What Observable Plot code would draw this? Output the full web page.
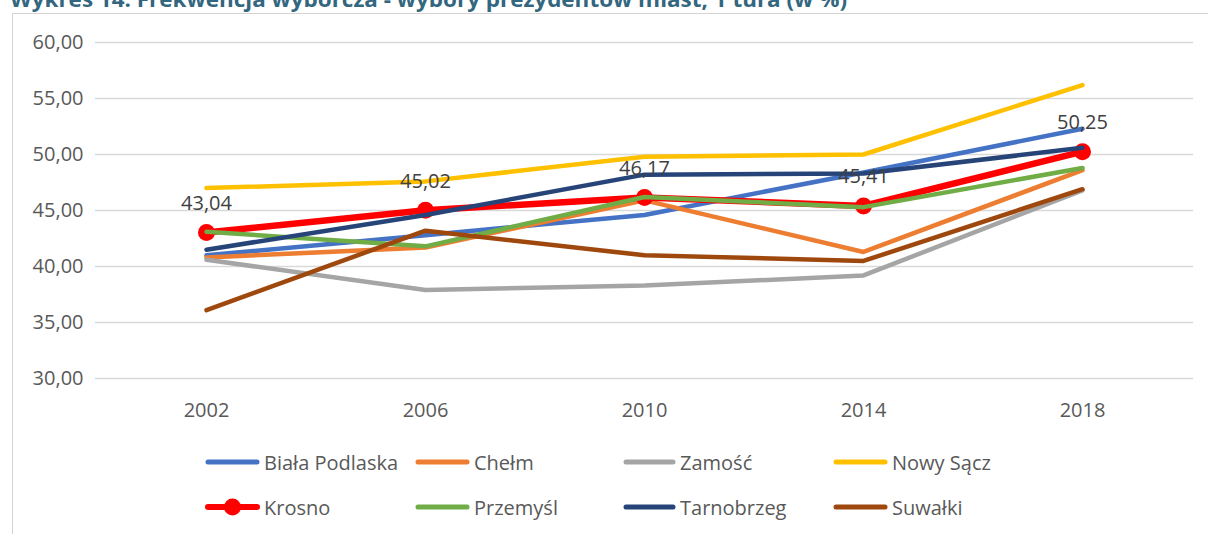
<!DOCTYPE html>
<html>
<head>
<meta charset="utf-8">
<script src="https://cdn.jsdelivr.net/npm/d3@7"></script>
<script src="https://cdn.jsdelivr.net/npm/@observablehq/plot@0.6"></script>
<style>
  html, body { margin: 0; padding: 0; background: #fff; width: 1208px; height: 534px; overflow: hidden; }
  #root { position: relative; width: 1208px; height: 534px; font-family: "Open Sans", sans-serif; }
  #frame { position: absolute; left: 12px; top: 13px; width: 1210px; height: 540px; border: 1px solid #d4d4d4; box-sizing: border-box; }
  #title { position: absolute; left: 0; top: 0; }
  #chart { position: absolute; left: 0; top: 0; }
  .item { position: absolute; display: flex; align-items: center; height: 30px; color: #595959; font-size: 20px; white-space: nowrap; }
  .item svg { display: block; }
  .item span { margin-left: 4px; }
</style>
</head>
<body>
<div id="root">
  <div id="frame"></div>
  <svg id="title" width="1208" height="14"><text x="10" y="7" textLength="837" lengthAdjust="spacingAndGlyphs" font-family="Open Sans" font-weight="bold" font-size="21" fill="#33667f">Wykres 14. Frekwencja wyborcza - wybory prezydentów miast, 1 tura (w %)</text></svg>
  <div id="chart"></div>
  <div id="legend"></div>
</div>
<script>
const years = ["2002", "2006", "2010", "2014", "2018"];
const seriesNames = ["Biała Podlaska", "Chełm", "Zamość", "Nowy Sącz", "Krosno", "Przemyśl", "Tarnobrzeg", "Suwałki"];
const seriesColors = ["#4472C4", "#ED7D31", "#A5A5A5", "#FFC000", "#FF0000", "#70AD47", "#264478", "#9E480E"];
const bialaPodlaska = [41.0, 42.8, 44.6, 48.4, 52.3];
const chelm = [40.8, 41.7, 45.9, 41.3, 48.6];
const zamosc = [40.6, 37.9, 38.3, 39.2, 46.8];
const nowySacz = [47.0, 47.6, 49.8, 50.0, 56.2];
const krosno = [43.04, 45.02, 46.17, 45.41, 50.25];
const przemysl = [43.1, 41.8, 46.2, 45.3, 48.8];
const tarnobrzeg = [41.5, 44.6, 48.2, 48.3, 50.6];
const suwalki = [36.1, 43.2, 41.0, 40.5, 46.9];
const yTicks = [30, 35, 40, 45, 50, 55, 60];

const seriesValues = [bialaPodlaska, chelm, zamosc, nowySacz, krosno, przemysl, tarnobrzeg, suwalki];
const fmt = v => d3.format(".2f")(v).replace(".", ",");

const rowsFor = i => years.map((y, j) => ({year: y, value: seriesValues[i][j], name: seriesNames[i]}));

const marks = [
  Plot.gridY(yTicks, {stroke: "#d9d9d9", strokeOpacity: 1, strokeWidth: 1.5}),
  Plot.axisY(yTicks, {tickSize: 0, tickPadding: 12, tickFormat: fmt, fill: "#595959", label: null}),
  Plot.axisX({tickSize: 0, tickPadding: 24, fill: "#595959", label: null})
];
seriesNames.forEach((name, i) => {
  const isKrosno = name === "Krosno";
  marks.push(Plot.line(rowsFor(i), {x: "year", y: "value", stroke: seriesColors[i], strokeWidth: isKrosno ? 6.5 : 4.5, strokeLinecap: "round", strokeLinejoin: "round"}));
  if (isKrosno) marks.push(Plot.dot(rowsFor(i), {x: "year", y: "value", r: 8.5, fill: seriesColors[i], stroke: "none"}));
});
const krIdx = seriesNames.indexOf("Krosno");
marks.push(Plot.text(rowsFor(krIdx), {x: "year", y: "value", text: d => fmt(d.value), dy: -29, fill: "#404040", fontSize: 20}));

const chart = Plot.plot({
  width: 1208,
  height: 430,
  marginLeft: 95,
  marginRight: 15,
  marginTop: 42,
  marginBottom: 52,
  style: {fontFamily: "Open Sans", fontSize: "20px", background: "transparent", overflow: "visible"},
  x: {type: "point", domain: years, padding: 0.5, label: null},
  y: {domain: [30, 60], label: null},
  marks
});
document.getElementById("chart").appendChild(chart);

// legend
const legendLeft = [205, 415, 623, 833];
const legendTop = [462, 507];
const legendSwatch = [55, 55, 53, 55];
const legend = document.getElementById("legend");
seriesNames.forEach((name, i) => {
  const col = i % 4, row = Math.floor(i / 4);
  const w = legendSwatch[col];
  const div = document.createElement("div");
  div.className = "item";
  div.style.left = legendLeft[col] + "px";
  div.style.top = (legendTop[row] - 15) + "px";
  const isKrosno = name === "Krosno";
  const sw = `<svg width="${w}" height="20"><line x1="3" y1="10" x2="${w - 3}" y2="10" stroke="${seriesColors[i]}" stroke-width="${isKrosno ? 6 : 5}" stroke-linecap="round"/>${isKrosno ? `<circle cx="${w / 2}" cy="10" r="8.5" fill="${seriesColors[i]}"/>` : ""}</svg>`;
  div.innerHTML = sw + `<span>${name}</span>`;
  legend.appendChild(div);
});
</script>
</body>
</html>
